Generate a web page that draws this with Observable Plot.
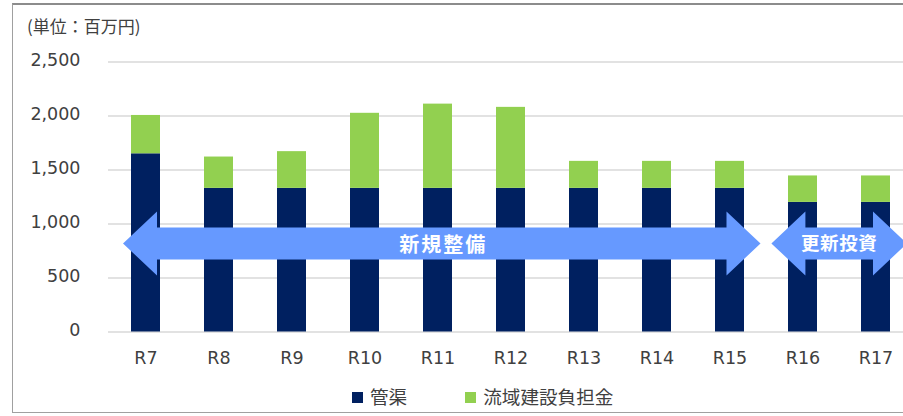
<!DOCTYPE html>
<html>
<head>
<meta charset="utf-8">
<script src="https://cdn.jsdelivr.net/npm/d3@7"></script>
<script src="https://cdn.jsdelivr.net/npm/@observablehq/plot@0.6"></script>
<style>
  html, body { margin: 0; padding: 0; background: #fff; }
  #wrap { position: relative; width: 903px; height: 416px; overflow: hidden; }
  #frame { position: absolute; left: 12px; top: 3px; width: 1000px; height: 410px; border: 1px solid #a0a0a0; border-top: 2px solid #8c8c8c; box-sizing: border-box; }
  #chart { position: absolute; left: 0; top: 0; }
  #title { position: absolute; left: 27px; top: 13px; font: 17px "Noto Sans CJK JP", sans-serif; color: #404040; }
  #legend { position: absolute; left: 352px; top: 382px; font: 18.6px "Noto Sans CJK JP", sans-serif; color: #404040; display: flex; align-items: center; }
  #legend .sw { display: inline-block; width: 11px; height: 11px; margin-right: 7px; margin-top: 4px; }
  #legend .item { display: flex; align-items: center; margin-right: 58px; }
</style>
</head>
<body>
<div id="wrap">
  <div id="frame"></div>
  <div id="chart"></div>
  <div id="title">(単位：百万円)</div>
  <div id="legend"></div>
</div>
<script>
// ---- data ----
const years = ["R7","R8","R9","R10","R11","R12","R13","R14","R15","R16","R17"];
const pipes = [1650,1330,1330,1330,1330,1330,1330,1330,1330,1200,1200];        // 管渠
const basin = [355,290,340,695,780,750,250,250,250,245,245];                  // 流域建設負担金
const seriesNames = ["管渠","流域建設負担金"];
const yTicks = [0,500,1000,1500,2000,2500];
const arrowLabels = ["新規整備","更新投資"];
const arrowFrom = ["R7","R16"];
const arrowTo = ["R15","R17"];
const arrowValue = 815;

// ---- styles ----
const colors = ["#002060","#92d050"];
const arrowColor = "#6699ff";
const arrowLeftPad = [8, 16.6];
const arrowRightPad = [16.5, 17];
const arrowFont = [20, 18.5];
const arrowSpacing = [2, 0.6];
const arrowTextDy = [3.5, 1.5];
const arrowTextDx = [1.5, 0];

const rows = [];
years.forEach((y, i) => {
  rows.push({year: y, series: seriesNames[0], value: pipes[i]});
  rows.push({year: y, series: seriesNames[1], value: basin[i]});
});

function arrowsMark(index, scales, values, dimensions, context) {
  const x = scales.x, y = scales.y;
  const bw = x.bandwidth();
  const g = d3.create("svg:g");
  const h = 34, H = 32, s = 16;
  arrowLabels.forEach((lab, i) => {
    const xl = x(arrowFrom[i]) - arrowLeftPad[i];
    const xr = x(arrowTo[i]) + bw + arrowRightPad[i];
    const yc = y(arrowValue);
    const pts = [
      [xl, yc], [xl + h, yc - H], [xl + h, yc - s], [xr - h, yc - s], [xr - h, yc - H],
      [xr, yc], [xr - h, yc + H], [xr - h, yc + s], [xl + h, yc + s], [xl + h, yc + H]
    ];
    g.append("path").attr("d", "M" + pts.map(p => p.join(",")).join("L") + "Z").attr("fill", arrowColor);
    g.append("text")
      .attr("x", (xl + xr) / 2 + arrowTextDx[i]).attr("y", yc + arrowTextDy[i])
      .attr("text-anchor", "middle").attr("dominant-baseline", "middle")
      .attr("fill", "#fff").attr("font-weight", "bold")
      .attr("font-size", arrowFont[i]).attr("letter-spacing", arrowSpacing[i])
      .attr("font-family", "'Noto Sans CJK JP', sans-serif")
      .text(lab);
  });
  return g.node();
}

const chart = Plot.plot({
  width: 903,
  height: 416,
  marginLeft: 108,
  marginRight: 0,
  marginTop: 61.5,
  marginBottom: 84.5,
  style: {fontFamily: "'DejaVu Sans', sans-serif", background: "transparent", color: "#404040"},
  x: {domain: years, range: [108, 913], paddingInner: 0.6, paddingOuter: 0.3, label: null},
  y: {domain: [0, 2500], label: null},
  color: {domain: seriesNames, range: colors},
  marks: [
    Plot.gridY(yTicks, {stroke: "#d9d9d9", strokeOpacity: 1, strokeWidth: 1.5}),
    Plot.barY(rows, {x: "year", y: "value", fill: "series", order: seriesNames}),
    Plot.axisY({ticks: yTicks, tickSize: 0, tickPadding: 28, tickFormat: d3.format(","), fontSize: 17.5, dy: -2, fill: "#404040"}),
    Plot.axisX({tickSize: 0, tickPadding: 20, fontSize: 17.5, fill: "#404040"}),
    arrowsMark
  ]
});
document.getElementById("chart").appendChild(chart);

const legend = document.getElementById("legend");
seriesNames.forEach((n, i) => {
  const it = document.createElement("div");
  it.className = "item";
  const sw = document.createElement("span");
  sw.className = "sw";
  sw.style.background = colors[i];
  it.appendChild(sw);
  it.appendChild(document.createTextNode(n));
  legend.appendChild(it);
});
</script>
</body>
</html>
